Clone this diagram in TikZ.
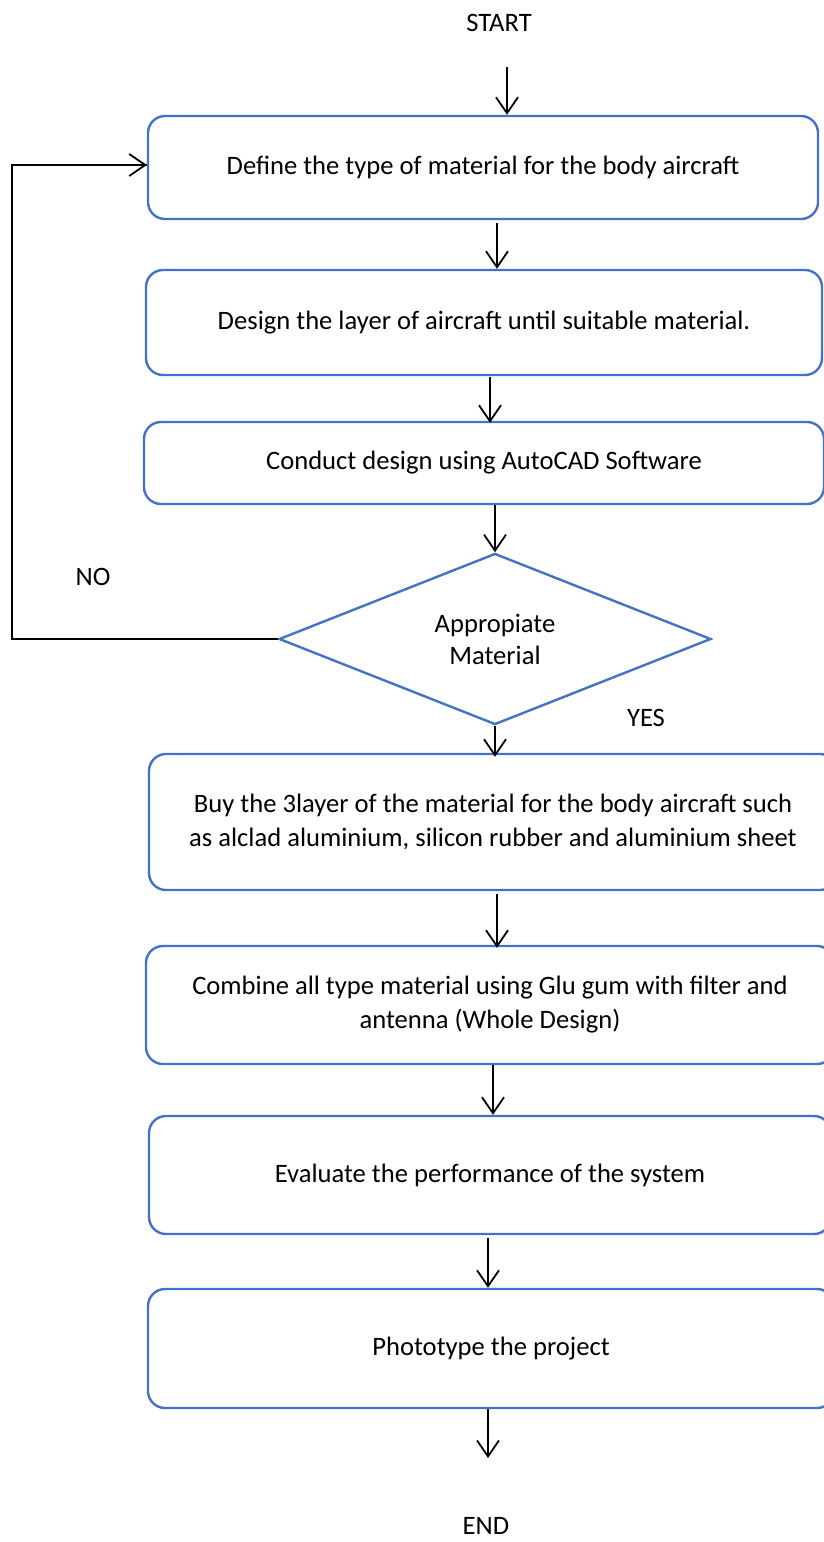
\documentclass[tikz,border=0pt]{standalone}
\usepackage{fontspec}
\setmainfont{Carlito}
\usetikzlibrary{shapes.geometric,arrows.meta}
\definecolor{boxblue}{HTML}{4472C4}
\tikzset{
  flowbox/.style={draw=boxblue, line width=2.4pt, rounded corners=17pt, fill=white,
    align=center, inner sep=0pt, font=\fontsize{26.6}{34}\selectfont},
  decision/.style={draw=boxblue, line width=2.4pt, diamond, fill=white, align=center,
    inner sep=0pt, minimum width=432pt, minimum height=167pt, font=\fontsize{26.6}{32}\selectfont},
  lbl/.style={font=\fontsize{26.6}{28}\selectfont, inner sep=0pt},
  arr/.style={draw=black, line width=1.8pt, -{Straight Barb[length=16pt,width=22pt,line width=1.8pt]}},
  loopline/.style={draw=black, line width=2pt}
}
\begin{document}
\begin{tikzpicture}[x=1pt,y=-1pt]
\fill[white] (0,0) rectangle (824,1542);
\useasboundingbox (0,0) rectangle (824,1542);

\node[lbl] (start) at (499,23) {START};
\node[flowbox, minimum width=670pt, minimum height=103pt] (b1) at (483,167.5)
  {Define the type of material for the body aircraft};
\node[flowbox, minimum width=676pt, minimum height=105pt] (b2) at (484,322.5)
  {Design the layer of aircraft until suitable material.};
\node[flowbox, minimum width=680pt, minimum height=82pt] (b3) at (484,463)
  {Conduct design using AutoCAD Software};
\node[decision] (dia) at (495,639) {Appropiate\\Material};
\node[lbl] (no) at (93,577) {NO};
\node[lbl] (yes) at (646,718) {YES};
\node[flowbox, minimum width=688pt, minimum height=136pt] (b4) at (493,822)
  {Buy the 3layer of the material for the body aircraft such\\as alclad aluminium, silicon rubber and aluminium sheet};
\node[flowbox, minimum width=688pt, minimum height=118pt] (b5) at (490,1005)
  {Combine all type material using Glu gum with filter and\\antenna (Whole Design)};
\node[flowbox, minimum width=682pt, minimum height=118pt] (b6) at (490,1175)
  {Evaluate the performance of the system};
\node[flowbox, minimum width=686pt, minimum height=119pt] (b7) at (491,1348.5)
  {Phototype the project};
\node[lbl] (end) at (486,1526) {END};

\coordinate (a1) at (507,67);
\coordinate (a9) at (488,1458);
\coordinate (lp) at (11.5,0);

\draw[arr] (a1) -- (a1 |- b1.north);
\draw[arr] ([yshift=-3pt]b1.south -| 497,0) -- (b2.north -| 497,0);
\draw[arr] ([yshift=-1pt]b2.south -| 490,0) -- ([yshift=-2pt]b3.north -| 490,0);
\draw[arr] (b3.south -| 495,0) -- (dia.north);
\draw[arr] (dia.south) -- ([yshift=-4pt]b4.north -| 495,0);
\draw[arr] ([yshift=-3pt]b4.south -| 497,0) -- ([yshift=-3pt]b5.north -| 497,0);
\draw[arr] (b5.south -| 493,0) -- (b6.north -| 493,0);
\draw[arr] ([yshift=-3pt]b6.south -| 488,0) -- (b7.north -| 488,0);
\draw[arr] (b7.south -| 488,0) -- (a9);
\draw[loopline] (dia.west) -- (dia.west -| lp) |- ([yshift=2.5pt]b1.west);
\draw[arr] ([yshift=2.5pt]b1.west -| 14,0) -- ([yshift=2.5pt]b1.west);
\end{tikzpicture}
\end{document}
